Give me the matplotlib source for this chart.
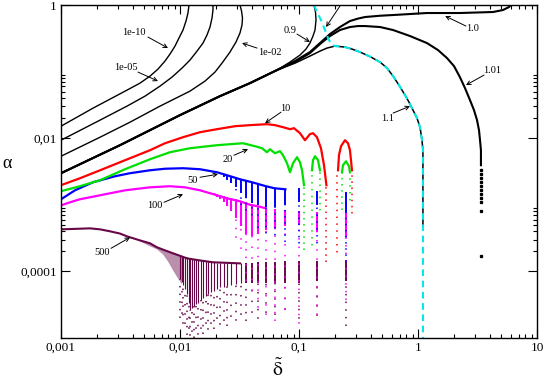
import numpy as np
import matplotlib
matplotlib.use("Agg")
import matplotlib.pyplot as plt
from matplotlib.ticker import FixedLocator, FuncFormatter, NullFormatter

plt.rcParams['font.family'] = ['Liberation Serif', 'DejaVu Serif']
plt.rcParams['mathtext.fontset'] = 'stix'

# ---- black curves (delta, alpha) ----
d_1e10 = [0.001, 0.001857, 0.003585, 0.00461, 0.0056, 0.00653, 0.00748, 0.00824, 0.00908, 0.0098, 0.0106,
          0.01123, 0.01167, 0.0119, 0.0119]
a_1e10 = [0.01515, 0.02825, 0.0527, 0.0671, 0.0856, 0.109, 0.144, 0.1834, 0.2417, 0.319, 0.421,
          0.574, 0.758, 1.0, 1.1]

d_1e05 = [0.001, 0.00213, 0.003585, 0.00508, 0.00679, 0.00857, 0.0104, 0.01213, 0.0139, 0.0156, 0.01686,
          0.01787, 0.01858, 0.01893, 0.01893, 0.01893]
a_1e05 = [0.00933, 0.0187, 0.0303, 0.0428, 0.0605, 0.0827, 0.113, 0.149, 0.203, 0.268, 0.354,
          0.467, 0.637, 0.841, 1.0, 1.1]

d_1e02 = [0.001, 0.00213, 0.0038, 0.00679, 0.01213, 0.01622, 0.01968, 0.02254, 0.0263, 0.02955, 0.0319,
          0.0332, 0.0335, 0.0329, 0.0319, 0.0319]
a_1e02 = [0.00536, 0.01035, 0.0174, 0.0303, 0.0509, 0.072, 0.0983, 0.134, 0.1965, 0.278, 0.379,
          0.5, 0.637, 0.812, 1.0, 1.1]

# common stem of the 0.9 / 1.0 / 1.01 / 1.1 curves
d_stem = [0.001, 0.00313, 0.01, 0.02168, 0.0387, 0.0653]
a_stem = [0.00298, 0.00785, 0.0222, 0.0428, 0.0671, 0.1054]

d_09 = [0.084, 0.1019, 0.1145, 0.1236, 0.1311, 0.1363, 0.139, 0.1376, 0.1337, 0.1337]
a_09 = [0.139, 0.177, 0.218, 0.268, 0.342, 0.421, 0.595, 0.785, 1.0, 1.1]

d_10 = [0.0925, 0.1236, 0.150, 0.182, 0.221, 0.268, 0.313, 0.359, 0.48, 0.617, 1.19, 2.25, 4.27, 5.18,
        5.82, 6.17]
a_10 = [0.144, 0.1965, 0.268, 0.366, 0.467, 0.574, 0.625, 0.66, 0.69, 0.707, 0.758, 0.758, 0.785, 0.841,
        0.933, 1.05]

d_101 = [0.0925, 0.1236, 0.150, 0.182, 0.221, 0.268, 0.313, 0.359, 0.48, 0.617, 0.857, 1.19, 1.473, 1.753,
         2.007, 2.25, 2.483, 2.735, 2.955, 3.133, 3.255, 3.32, 3.38, 3.38]
a_101 = [0.139, 0.1897, 0.259, 0.342, 0.421, 0.467, 0.483, 0.483, 0.467, 0.421, 0.342, 0.268, 0.2105,
         0.1596, 0.121, 0.0827, 0.0565, 0.0373, 0.0264, 0.0187, 0.0132, 0.00933, 0.0066, 0.00393]
d_101_dots = 3.38
a_101_dots = [0.0033, 0.00288, 0.0025, 0.00218, 0.0019, 0.00165, 0.00144, 0.00125, 0.00109, 0.000798, 0.000168]

d_11 = [0.0925, 0.1236, 0.150, 0.1718, 0.2007, 0.2435, 0.2787, 0.326, 0.395, 0.48, 0.549, 0.617, 0.692,
        0.778, 0.84, 0.908, 0.981, 1.04, 1.08, 1.10, 1.10]
a_11 = [0.134, 0.171, 0.203, 0.2256, 0.2417, 0.2335, 0.218, 0.1965, 0.168, 0.139, 0.113, 0.0856, 0.0627,
        0.0443, 0.0348, 0.0264, 0.02, 0.01464, 0.00933, 0.0066, 0.000492]

d_cyan = [0.1337, 0.1416, 0.153, 0.1654, 0.1753, 0.1858, 0.2007, 0.2435, 0.2787, 0.326, 0.395, 0.48, 0.549,
          0.617, 0.692, 0.778, 0.84, 0.908, 0.981, 1.04, 1.08, 1.10, 1.10]
a_cyan = [1.0, 0.785, 0.595, 0.421, 0.319, 0.259, 0.2417, 0.2335, 0.218, 0.1965, 0.168, 0.139, 0.113,
          0.0856, 0.0627, 0.0443, 0.0348, 0.0264, 0.02, 0.01464, 0.00933, 0.0066, 1e-5]

# ---- N = 10 (red) ----
d_red = [0.001, 0.00144, 0.00213, 0.00345, 0.0056, 0.00748, 0.0106, 0.01473, 0.02046, 0.029, 0.0387,
         0.0538, 0.0628, 0.0734, 0.084, 0.0908, 0.1019, 0.1123, 0.1236, 0.1311, 0.1416, 0.153, 0.1622, 0.17]
a_red = [0.00197, 0.0025, 0.0033, 0.00467, 0.0066, 0.0084, 0.01035, 0.01231, 0.01366, 0.01515, 0.0157,
         0.01624, 0.0157, 0.01464, 0.01366, 0.01414, 0.0119, 0.00933, 0.01149, 0.0119, 0.01035, 0.00707,
         0.00393, 0.00197]
d_red_lobe = [0.2128, 0.2168, 0.2254, 0.2435, 0.2582, 0.268, 0.2735, 0.2787]
a_red_lobe = [0.0033, 0.00555, 0.00758, 0.00933, 0.0084, 0.0066, 0.00467, 0.0033]
d_red_dots = [0.17, 0.2086, 0.2787]
top_red_dots = [0.00197, 0.0033, 0.0033]
bot_red_dots = [1.37e-4, 1.62e-4, 6.95e-4]

# ---- N = 20 (green) ----
d_green = [0.001, 0.00144, 0.00213, 0.00345, 0.0056, 0.00824, 0.01213, 0.02046, 0.0338, 0.0427, 0.0489,
           0.0538, 0.057, 0.0628, 0.0692, 0.0734, 0.0793, 0.084, 0.0891, 0.0962, 0.1019, 0.106, 0.108, 0.1102]
a_green = [0.0016, 0.0019, 0.00234, 0.00342, 0.00483, 0.00616, 0.00707, 0.00785, 0.0084, 0.00758, 0.00707,
           0.00616, 0.00684, 0.00595, 0.00638, 0.00555, 0.00421, 0.00308, 0.00421, 0.00518, 0.00436,
           0.0033, 0.00259, 0.00197]
d_green_lobe1 = [0.1285, 0.1311, 0.1363, 0.1445, 0.150]
a_green_lobe1 = [0.0033, 0.00467, 0.00536, 0.00467, 0.0033]
d_green_lobe2 = [0.2298, 0.2342, 0.2483, 0.2631, 0.268]
a_green_lobe2 = [0.00308, 0.00393, 0.00451, 0.00379, 0.00308]
d_green_dots = [0.1102, 0.1285, 0.150, 0.2298, 0.268]
top_green_dots = [0.00197, 0.0033, 0.0033, 0.00308, 0.00308]
bot_green_dots = [2.07e-4, 2.07e-4, 7.71e-4, 8.26e-4, 9.8e-4]

# resonance columns where the N = 50, 100, 500 curves drop
d_cols = [0.25, 0.1429, 0.1, 0.0769, 0.0625, 0.0526, 0.0455, 0.04, 0.0357, 0.0323, 0.0294, 0.027, 0.025,
          0.0233, 0.0217, 0.0204, 0.0192, 0.0182, 0.0172, 0.0164, 0.0156, 0.0149, 0.0143, 0.0137, 0.0132,
          0.0127, 0.0122, 0.0118, 0.0114, 0.011, 0.0106, 0.0103, 0.01]

# ---- N = 50 (blue) ----
d_blue = [0.001, 0.00131, 0.001857, 0.00284, 0.0038, 0.0056, 0.00748, 0.0106, 0.01473, 0.02046, 0.0248,
          0.0319, 0.0403, 0.0528, 0.0625, 0.0769]
a_blue = [1.21e-3, 1.65e-3, 2.18e-3, 2.68e-3, 2.98e-3, 3.3e-3, 3.48e-3, 3.54e-3, 3.42e-3, 3.08e-3, 2.78e-3,
          2.42e-3, 2.18e-3, 1.90e-3, 1.77e-3, 1.71e-3]
top_blue = [1.54e-3, 1.6e-3, 1.77e-3, 1.71e-3, 1.77e-3, 1.90e-3, 2.03e-3, 2.18e-3, 2.34e-3, 2.42e-3,
            2.59e-3, 2.68e-3, 2.78e-3, 2.88e-3]
mid_blue = [7.71e-4, 9.8e-4, 1.09e-3, 9.8e-4, 9.17e-4, 9.17e-4, 9.8e-4, 1.05e-3, 1.25e-3, 1.49e-3,
            1.83e-3, 2.1e-3, 2.34e-3, 2.59e-3]
bot_blue = [1.37e-4, 2.22e-4, 2.46e-4, 2.73e-4, 2.92e-4, 3.48e-4, 4.43e-4, 5.85e-4, 7.71e-4, 9.8e-4,
            1.39e-3, 2.1e-3, 2.34e-3, 2.59e-3]

# ---- N = 100 (magenta) ----
d_mag = [0.001, 0.00119, 0.00144, 0.00213, 0.00345, 0.0056, 0.00824, 0.01101, 0.01473, 0.02046, 0.0248,
         0.0319, 0.0387, 0.0452, 0.0528]
a_mag = [9.8e-4, 1.09e-3, 1.21e-3, 1.39e-3, 1.65e-3, 1.83e-3, 1.90e-3, 1.83e-3, 1.65e-3, 1.39e-3, 1.25e-3,
         1.13e-3, 1.0e-3, 9.5e-4, 8.85e-4]
top_mag = [7.71e-4, 7.71e-4, 7.98e-4, 8.26e-4, 8.55e-4, 8.85e-4, 9.5e-4, 1.02e-3, 1.09e-3, 1.13e-3,
           1.21e-3, 1.25e-3, 1.30e-3, 1.34e-3, 1.39e-3, 1.44e-3, 1.49e-3]
mid_mag = [3.24e-4, 3.86e-4, 4.92e-4, 4.75e-4, 4.43e-4, 4.14e-4, 3.6e-4, 3.36e-4, 3.6e-4, 4.75e-4,
           6.27e-4, 7.98e-4, 9.5e-4, 1.09e-3, 1.21e-3, 1.30e-3, 1.39e-3]
bot_mag = [3.66e-5, 1.83e-5, 1.54e-5, 1.96e-5, 1.83e-5, 1.83e-5, 2.59e-5, 3.66e-5, 7.3e-5, 1.74e-4,
           2.92e-4, 7.98e-4, 9.5e-4, 1.09e-3, 1.21e-3, 1.30e-3, 1.39e-3]

# ---- N = 500 (maroon) ----
d_mar = [0.001, 0.00131, 0.00175, 0.00213, 0.00258, 0.00313, 0.003585, 0.00461, 0.0056, 0.00641, 0.00748,
         0.00873, 0.01145, 0.01473, 0.01893, 0.0319]
a_mar = [4.28e-4, 4.35e-4, 4.43e-4, 4.28e-4, 4.0e-4, 3.7e-4, 3.36e-4, 2.92e-4, 2.64e-4, 2.3e-4, 2.07e-4,
         1.87e-4, 1.57e-4, 1.46e-4, 1.37e-4, 1.32e-4]
top_mar = [1.5e-4, 1.45e-4, 1.41e-4, 1.41e-4, 1.38e-4, 1.37e-4, 1.37e-4, 1.35e-4, 1.32e-4, 1.32e-4, 1.32e-4,
           1.33e-4, 1.33e-4, 1.34e-4, 1.35e-4, 1.36e-4, 1.37e-4, 1.39e-4, 1.41e-4, 1.43e-4, 1.45e-4, 1.46e-4,
           1.48e-4, 1.51e-4, 1.53e-4, 1.56e-4, 1.58e-4, 1.6e-4, 1.62e-4, 1.65e-4, 1.68e-4, 1.7e-4, 1.74e-4]
mid_mar = [7.3e-5, 7.3e-5, 6.8e-5, 6.8e-5, 6.8e-5, 6.6e-5, 6.6e-5, 6.6e-5, 6.6e-5, 6.6e-5, 6.4e-5, 6.2e-5,
           6.0e-5, 5.9e-5, 5.75e-5, 5.4e-5, 5.1e-5, 4.9e-5, 4.6e-5, 4.3e-5, 4.0e-5, 3.7e-5, 3.4e-5, 3.2e-5,
           3.0e-5, 2.8e-5, 2.6e-5, 3.3e-5, 4.5e-5, 5.4e-5, 6.2e-5, 7.0e-5, 7.8e-5]
bot_mar = [1.54e-5, 1.71e-5, 1.83e-5, 1.96e-5, 2.18e-5, 1.96e-5, 1.83e-5, 1.71e-5, 1.83e-5, 1.83e-5, 1.7e-5,
           1.54e-5, 1.5e-5, 1.45e-5, 1.44e-5, 1.4e-5, 1.35e-5, 1.3e-5, 1.25e-5, 1.2e-5, 1.15e-5, 1.1e-5,
           1.05e-5, 1.0e-5, 1.0e-5, 1.0e-5, 1.0e-5, 1.0e-5, 1.1e-5, 1.3e-5, 1.5e-5, 1.7e-5, 2.0e-5]
d_mar_fill = [0.00461, 0.0056, 0.00641, 0.00748, 0.00873, 0.0104,
              0.0104, 0.00962, 0.00873, 0.00793, 0.0072, 0.00641, 0.0056, 0.00461]
a_mar_fill = [2.92e-4, 2.64e-4, 2.3e-4, 2.07e-4, 1.87e-4, 1.68e-4,
              6.38e-5, 7.85e-5, 1.04e-4, 1.41e-4, 1.8e-4, 2.14e-4, 2.38e-4, 2.83e-4]

# ---- curve labels: (text, label pos, arrow tail, arrow tip) ----
labels = [
    ("1e-10", (0.0041, 0.393), (0.00538, 0.33), (0.00793, 0.2256)),
    ("1e-05", (0.00352, 0.117), (0.00444, 0.0983), (0.00653, 0.072)),
    ("1e-02", (0.057, 0.1965), (0.0444, 0.2256), (0.0332, 0.268)),
    ("0.9", (0.084, 0.421), (0.0962, 0.366), (0.1236, 0.278)),
    ("1.0", (2.9, 0.451), (2.53, 0.483), (1.69, 0.683)),
    ("1.01", (4.19, 0.1054), (3.59, 0.0886), (2.53, 0.0627)),
    ("1.1", (0.56, 0.02), (0.617, 0.0238), (0.857, 0.0303)),
    ("10", (0.0763, 0.0283), (0.0706, 0.0246), (0.0518, 0.0168)),
    ("20", (0.0253, 0.00483), (0.0284, 0.00555), (0.0373, 0.00684)),
    ("50", (0.01286, 0.00234), (0.01473, 0.00259), (0.02086, 0.00288)),
    ("100", (0.00617, 9.8e-4), (0.00734, 1.09e-3), (0.0106, 1.44e-3)),
    ("500", (0.00221, 1.93e-4), (0.00263, 2.22e-4), (0.0038, 3.24e-4)),
]

RED, GREEN, BLUE, MAG, MAROON, CYAN = '#ff0000', '#00e000', '#0000ff', '#ff00ff', '#670748', '#00e8e8'
DOTS = [(0, (1, 3)), (1.5, (1, 3.5)), (3, (1, 3))]
SPARSE = [(0, (1, 4)), (2, (1, 5)), (4, (1, 4.5)), (1, (1, 6))]

fig = plt.figure(figsize=(5.45, 3.82), dpi=100)
ax = fig.add_axes([61 / 545, 1 - 338 / 382, 476 / 545, 333 / 382])
ax.set_xscale('log')
ax.set_yscale('log')
ax.set_xlim(1e-3, 10)
ax.set_ylim(1e-5, 1)

# maroon (N=500)
ax.fill(d_mar_fill, a_mar_fill, color=MAROON, alpha=0.45, lw=0)
ax.plot(d_mar, a_mar, color=MAROON, lw=1.5)
ax.vlines(d_cols, mid_mar, top_mar, colors=MAROON, lw=[1.4] * 9 + [0.8] * 24)
ax.vlines(d_cols, bot_mar, mid_mar, colors=MAROON, lw=1.1, linestyles=SPARSE)

# magenta (N=100)
ax.plot(d_mag, a_mag, color=MAG, lw=1.6)
ax.vlines(d_cols[:17], mid_mag, top_mag, colors=MAG, lw=1.5)
ax.vlines(d_cols[:17], bot_mag, mid_mag, colors=MAG, lw=1.1, linestyles=SPARSE)

# blue (N=50)
ax.plot(d_blue, a_blue, color=BLUE, lw=1.6)
ax.vlines(d_cols[:14], mid_blue, top_blue, colors=BLUE, lw=1.4)
ax.vlines(d_cols[:14], bot_blue, mid_blue, colors=BLUE, lw=1.1, linestyles=DOTS)

# green (N=20)
ax.plot(d_green, a_green, color=GREEN, lw=1.6)
ax.plot(d_green_lobe1, a_green_lobe1, color=GREEN, lw=1.6)
ax.plot(d_green_lobe2, a_green_lobe2, color=GREEN, lw=1.6)
ax.vlines(d_green_dots, bot_green_dots, top_green_dots, colors=GREEN, lw=1.1, linestyles=DOTS)

# red (N=10)
ax.plot(d_red, a_red, color=RED, lw=1.6)
ax.plot(d_red_lobe, a_red_lobe, color=RED, lw=1.6)
ax.vlines(d_red_dots, bot_red_dots, top_red_dots, colors=RED, lw=1.1, linestyles=DOTS)

# black curves
ax.plot(d_1e10, a_1e10, color='k', lw=1.0)
ax.plot(d_1e05, a_1e05, color='k', lw=1.0)
ax.plot(d_1e02, a_1e02, color='k', lw=1.0)
ax.plot(d_stem + d_09, a_stem + a_09, color='k', lw=1.0)
ax.plot(d_stem + d_10, a_stem + a_10, color='k', lw=1.5)
ax.plot(d_stem + d_101, a_stem + a_101, color='k', lw=1.5)
ax.plot([d_101_dots] * len(a_101_dots), a_101_dots, ls='none', marker='s', ms=1.4, color='k')
ax.plot(d_stem + d_11, a_stem + a_11, color='k', lw=1.1)
ax.plot(d_cyan, a_cyan, color=CYAN, lw=1.5, dashes=(3.2, 2.2))

for text, pos, tail, tip in labels:
    ax.text(pos[0], pos[1], text, fontsize=7.5, ha='center', va='center')
    ax.annotate('', xy=tip, xytext=tail,
                arrowprops=dict(arrowstyle='->', color='k', lw=0.7, shrinkA=0, shrinkB=0,
                                mutation_scale=7))
ax.annotate('', xy=(0.1687, 0.467), xytext=(0.221, 0.966),
            arrowprops=dict(arrowstyle='->', color='k', lw=0.7, shrinkA=0, shrinkB=0, mutation_scale=7))

# axes styling
fmt = FuncFormatter(lambda v, p: ('%g' % v).replace('.', ','))
ax.xaxis.set_major_locator(FixedLocator([1e-3, 1e-2, 1e-1, 1, 10]))
ax.xaxis.set_minor_locator(FixedLocator(np.outer(np.arange(2, 10), [1e-3, 1e-2, 1e-1, 1]).ravel()))
ax.yaxis.set_major_locator(FixedLocator([1e-4, 1e-2, 1]))
ax.yaxis.set_minor_locator(FixedLocator(np.outer(np.arange(2, 10), [1e-4, 1e-2]).ravel()))
ax.xaxis.set_major_formatter(fmt)
ax.yaxis.set_major_formatter(fmt)
ax.xaxis.set_minor_formatter(NullFormatter())
ax.yaxis.set_minor_formatter(NullFormatter())
ax.tick_params(which='both', direction='in', top=True, right=True, width=0.8, labelsize=9.5)
ax.tick_params(which='major', length=6.5, pad=3)
ax.tick_params(which='minor', length=3.2)
for s in ax.spines.values():
    s.set_linewidth(1.0)

fig.text(7 / 545, 1 - 164 / 382, 'α', fontsize=13, ha='center', va='center')
fig.text(278 / 545, 1 - 369 / 382, r'$\tilde{\mathrm{\delta}}$', fontsize=14, ha='center', va='center')

fig.savefig('out.png', dpi=100)
